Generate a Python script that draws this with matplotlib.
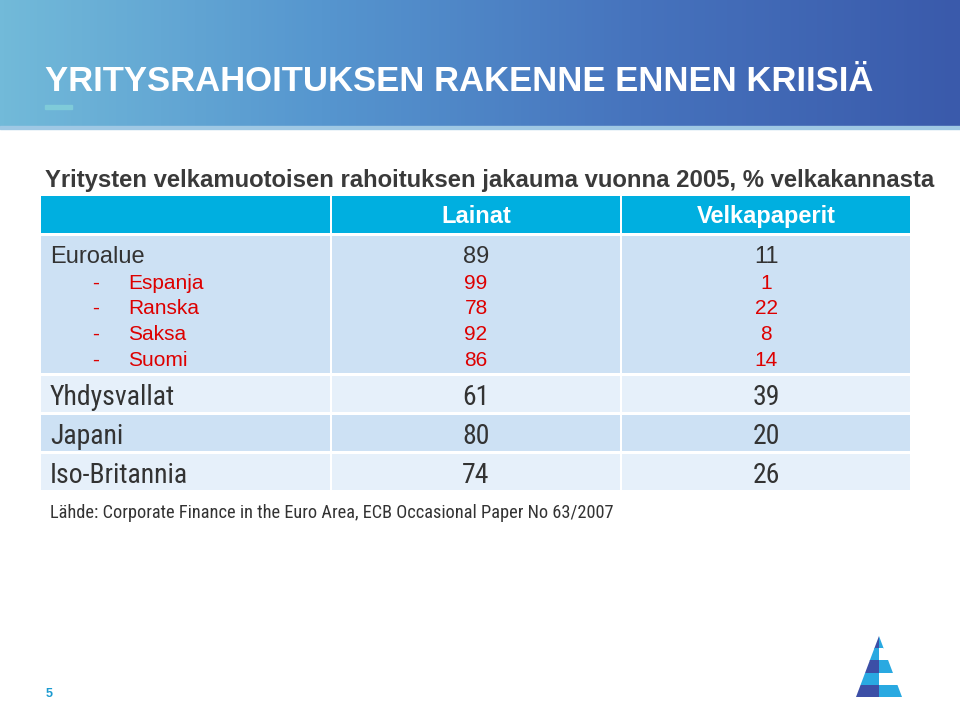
import matplotlib.pyplot as plt
import matplotlib.font_manager as fm
from matplotlib.patches import Rectangle, Polygon
from matplotlib.colors import LinearSegmentedColormap
import numpy as np

# table data
title = "YRITYSRAHOITUKSEN RAKENNE ENNEN KRIISIÄ"
subtitle = "Yritysten velkamuotoisen rahoituksen jakauma vuonna 2005, % velkakannasta"
columns = ["Lainat", "Velkapaperit"]
regions = ["Euroalue", "Espanja", "Ranska", "Saksa", "Suomi", "Yhdysvallat", "Japani", "Iso-Britannia"]
lainat = [89, 99, 78, 92, 86, 61, 80, 74]
velkapaperit = [11, 1, 22, 8, 14, 39, 20, 26]
is_sub = [False, True, True, True, True, False, False, False]
source = "Lähde: Corporate Finance in the Euro Area, ECB Occasional Paper No 63/2007"
page = "5"

names = {f.name for f in fm.fontManager.ttflist}
REG = 'Liberation Sans'
NARROW = 'Roboto Condensed' if 'Roboto Condensed' in names else 'Liberation Sans'

fig = plt.figure(figsize=(9.6, 7.02), dpi=100)
ax = fig.add_axes([0, 0, 1, 1])
ax.set_xlim(0, 960)
ax.set_ylim(702, 0)
ax.axis('off')
renderer = fig.canvas.get_renderer()

def fit(t, width):
    # scale font so text spans the wanted pixel width
    w = t.get_window_extent(renderer).width
    t.set_fontsize(t.get_fontsize() * width / w)

# banner
cmap = LinearSegmentedColormap.from_list('ban', ['#72bad9', '#5696cf', '#4673bd', '#3a5aab'])
grad = np.linspace(0, 1, 256).reshape(1, -1)
ax.imshow(grad, cmap=cmap, extent=(0, 960, 128, 0), aspect='auto', zorder=0)
ax.add_patch(Rectangle((0, 126), 960, 3, color='#9fc8e4', zorder=1))
t = ax.text(45, 91, title, color='white', fontsize=22, fontweight='bold', family=REG, va='baseline', zorder=2)
fit(t, 825)
ax.add_patch(Rectangle((45, 105), 27, 4, color='#7fcbd9', zorder=2))

t = ax.text(45, 187, subtitle, color='#3a3a3a', fontsize=15, fontweight='bold', family=REG, va='baseline')
fit(t, 892)

# table backgrounds
L, R = 41, 910
col_edges = [41, 331, 621, 910]
ax.add_patch(Rectangle((L, 196), R - L, 37, color='#00afe0', lw=0))
ax.add_patch(Rectangle((L, 236), R - L, 137, color='#cde1f4', lw=0))
band_colors = ['#e6f0fa', '#cde1f4', '#e6f0fa']
for i, y0 in enumerate([376, 415, 454]):
    ax.add_patch(Rectangle((L, y0), R - L, 36, color=band_colors[i], lw=0))
for x in col_edges[1:3]:
    ax.add_patch(Rectangle((x - 1, 196), 2, 294, color='white', lw=0, zorder=3))

centers = [476, 766]
for c, name in zip(centers, columns):
    ax.text(c, 223, name, color='white', fontsize=17, fontweight='bold', family=REG,
            ha='center', va='baseline', zorder=4)

baselines = [263, 289, 314, 340, 366, 405, 444, 483]
for i, reg in enumerate(regions):
    yb = baselines[i]
    vals = [lainat[i], velkapaperit[i]]
    if is_sub[i]:
        col = '#dd0000'
        ax.text(92, yb, "-", color=col, fontsize=15, family=REG, va='baseline')
        ax.text(128, yb, reg, color=col, fontsize=15, family=REG, va='baseline')
        for c, v in zip(centers, vals):
            ax.text(c, yb, str(v), color=col, fontsize=15, family=REG, ha='center', va='baseline')
    elif i == 0:
        col = '#333333'
        ax.text(50, yb, reg, color=col, fontsize=17, family=REG, va='baseline')
        for c, v in zip(centers, vals):
            ax.text(c, yb, str(v), color=col, fontsize=17, family=REG, ha='center', va='baseline')
    else:
        col = '#333333'
        ax.text(50, yb, reg, color=col, fontsize=20, family=NARROW, va='baseline')
        for c, v in zip(centers, vals):
            ax.text(c, yb, str(v), color=col, fontsize=20, family=NARROW,
                    ha='center', va='baseline')

t = ax.text(50, 518, source, color='#333333', fontsize=11, family=NARROW, va='baseline')
fit(t, 563)

ax.text(46, 697, page, color='#1b9ad0', fontsize=9, fontweight='bold', family=REG, va='baseline')

# logo
tri = Polygon([(879, 636), (856, 697), (902, 697)], closed=True, fc='none', ec='none')
ax.add_patch(tri)
left_cols = ['#3c4fa6', '#29a9e1', '#3c4fa6', '#29a9e1', '#3c4fa6']
right_cols = ['#29a9e1', 'white', '#29a9e1', 'white', '#29a9e1']
band_h = 61 / 5
for k in range(5):
    y0 = 636 + k * band_h
    for x0, cl in [(850, left_cols[k]), (879, right_cols[k])]:
        p = Rectangle((x0, y0), 29, band_h + 0.5, color=cl, lw=0)
        ax.add_patch(p)
        p.set_clip_path(tri)

fig.savefig('out.png', dpi=100)
